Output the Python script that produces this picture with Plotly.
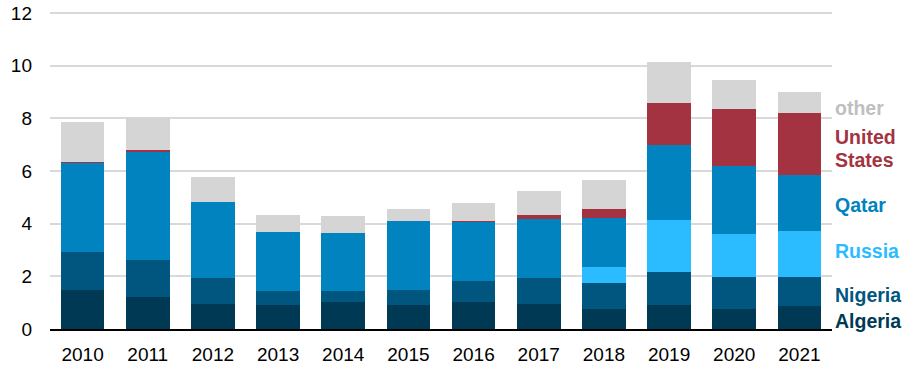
import plotly.graph_objects as go

years = ["2010", "2011", "2012", "2013", "2014", "2015", "2016", "2017", "2018", "2019", "2020", "2021"]
algeria = [1.50, 1.23, 0.96, 0.92, 1.01, 0.92, 1.01, 0.96, 0.77, 0.92, 0.77, 0.88]
nigeria = [1.43, 1.39, 0.99, 0.51, 0.42, 0.58, 0.80, 0.98, 0.98, 1.23, 1.19, 1.08]
russia = [0.00, 0.00, 0.00, 0.00, 0.00, 0.00, 0.00, 0.00, 0.60, 1.99, 1.63, 1.77]
qatar = [3.38, 4.13, 2.88, 2.24, 2.20, 2.62, 2.26, 2.24, 1.88, 2.85, 2.59, 2.12]
united_states = [0.02, 0.03, 0.00, 0.00, 0.00, 0.00, 0.02, 0.15, 0.31, 1.59, 2.16, 2.35]
other = [1.52, 1.28, 0.95, 0.66, 0.67, 0.44, 0.71, 0.92, 1.12, 1.56, 1.10, 0.82]

series = [
    ("Algeria", algeria, "#003953"),
    ("Nigeria", nigeria, "#00567f"),
    ("Russia", russia, "#2bbcff"),
    ("Qatar", qatar, "#0083be"),
    ("United States", united_states, "#a33340"),
    ("other", other, "#d5d5d5"),
]

fig = go.Figure()
for name, vals, color in series:
    fig.add_trace(go.Bar(x=years, y=vals, name=name, marker=dict(color=color, line=dict(width=0))))

labels = [
    ("other", 8.40, "#bfbfbf"),
    ("United", 7.31, "#a33340"),
    ("States", 6.43, "#a33340"),
    ("Qatar", 4.72, "#0083be"),
    ("Russia", 2.95, "#2bbcff"),
    ("Nigeria", 1.30, "#00567f"),
    ("Algeria", 0.29, "#003953"),
]
for text, yv, color in labels:
    fig.add_annotation(x=1.0, xref="paper", xanchor="left", xshift=1, y=yv, yref="y",
                       text="<b>" + text + "</b>", showarrow=False, align="left",
                       font=dict(family="Liberation Sans, Arial, sans-serif", size=19.5, color=color))

fig.update_layout(
    barmode="stack",
    bargap=0.33,
    width=909, height=367,
    margin=dict(l=50, r=77, t=12, b=38, autoexpand=False),
    paper_bgcolor="white", plot_bgcolor="white",
    showlegend=False,
    font=dict(family="Liberation Sans, Arial, sans-serif", size=19, color="#000000"),
    xaxis=dict(showgrid=False, showline=True, linecolor="#000000", linewidth=1.5, ticks="",
               tickfont=dict(size=19), ticklabelstandoff=7, automargin=False),
    yaxis=dict(range=[0, 12.04], tickvals=[0, 2, 4, 6, 8, 10, 12], showgrid=True,
               gridcolor="#d9d9d9", gridwidth=1.5, zeroline=False, ticks="",
               ticklabelstandoff=17, tickfont=dict(size=19), automargin=False),
)

fig.write_html("out.html", config={"displayModeBar": False},
               post_script="document.body.style.margin='0';")
